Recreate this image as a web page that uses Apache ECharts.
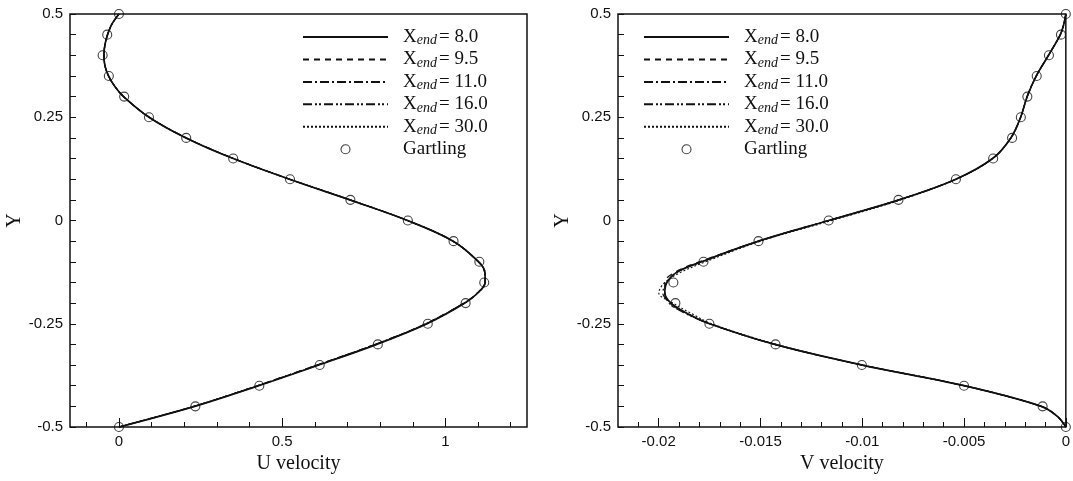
<!DOCTYPE html>
<html>
<head>
<meta charset="utf-8">
<script src="https://cdn.jsdelivr.net/npm/echarts@6/dist/echarts.min.js"></script>
<style>
  html, body { margin: 0; padding: 0; background: #fff; }
  #chart { width: 1073px; height: 481px; }
</style>
</head>
<body>
<div id="chart"></div>
<script>
// X_end values of the five runs
const endValues = ['8.0', '9.5', '11.0', '16.0', '30.0'];

// --- U velocity profile (left panel) ---
const yU = [0.5, 0.475, 0.45, 0.425, 0.4, 0.375, 0.35, 0.325, 0.3, 0.25, 0.2, 0.15, 0.1, 0.05, 0,
  -0.05, -0.1, -0.125, -0.15, -0.175, -0.2, -0.25, -0.3, -0.35, -0.4, -0.45, -0.5];
const uEnd8 = [0, -0.022, -0.035, -0.043, -0.046, -0.043, -0.032, -0.013, 0.014, 0.092, 0.205, 0.350, 0.522, 0.707, 0.884,
  1.024, 1.102, 1.121, 1.122, 1.100, 1.060, 0.944, 0.790, 0.612, 0.428, 0.232, 0];
const uEnd95 = [0, -0.022, -0.035, -0.043, -0.046, -0.043, -0.032, -0.013, 0.014, 0.093, 0.207, 0.352, 0.524, 0.708, 0.884,
  1.023, 1.101, 1.120, 1.121, 1.098, 1.056, 0.939, 0.784, 0.606, 0.423, 0.229, 0];
const uEnd11 = [0, -0.022, -0.035, -0.043, -0.046, -0.043, -0.032, -0.013, 0.014, 0.093, 0.206, 0.351, 0.523, 0.708, 0.884,
  1.023, 1.101, 1.120, 1.121, 1.099, 1.057, 0.940, 0.785, 0.607, 0.424, 0.229, 0];
const uEnd16 = [0, -0.022, -0.035, -0.043, -0.046, -0.043, -0.032, -0.013, 0.014, 0.093, 0.206, 0.351, 0.523, 0.708, 0.884,
  1.023, 1.101, 1.120, 1.121, 1.099, 1.057, 0.941, 0.786, 0.608, 0.425, 0.230, 0];
const uEnd30 = [0, -0.022, -0.035, -0.043, -0.046, -0.043, -0.032, -0.013, 0.014, 0.092, 0.205, 0.350, 0.522, 0.707, 0.884,
  1.024, 1.102, 1.121, 1.122, 1.100, 1.059, 0.943, 0.789, 0.611, 0.427, 0.231, 0];

// --- V velocity profile (right panel) ---
const yV = [0.5, 0.475, 0.45, 0.4, 0.35, 0.3, 0.25, 0.2, 0.15, 0.1, 0.05, 0, -0.05, -0.1, -0.125,
  -0.15, -0.175, -0.2, -0.225, -0.25, -0.3, -0.35, -0.4, -0.45, -0.475, -0.5];
const vEnd8 = [0, -0.0001, -0.00027, -0.00085, -0.00145, -0.0019, -0.00222, -0.0027, -0.0036, -0.0054, -0.0082, -0.01165,
  -0.0151, -0.0179, -0.0191, -0.0196, -0.0197, -0.0194, -0.0186, -0.0175, -0.0143, -0.0100, -0.0050, -0.0012, -0.0004, 0];
const vEnd95 = [0, -0.0001, -0.00027, -0.00085, -0.00145, -0.0019, -0.00222, -0.0027, -0.0036, -0.0054, -0.0082, -0.01165,
  -0.0151, -0.0180, -0.0192, -0.0197, -0.0197, -0.0194, -0.0186, -0.0175, -0.0143, -0.0100, -0.0050, -0.0012, -0.0004, 0];
const vEnd11 = [0, -0.0001, -0.00027, -0.00085, -0.00145, -0.0019, -0.00222, -0.0027, -0.0036, -0.0054, -0.0082, -0.01165,
  -0.0151, -0.0179, -0.0191, -0.0196, -0.0198, -0.0194, -0.0186, -0.0175, -0.0143, -0.0100, -0.0050, -0.0012, -0.0004, 0];
const vEnd16 = [0, -0.0001, -0.00027, -0.00085, -0.00145, -0.0019, -0.00222, -0.0027, -0.0036, -0.0054, -0.0082, -0.01165,
  -0.0151, -0.0179, -0.0191, -0.0196, -0.0197, -0.0195, -0.0187, -0.0175, -0.0143, -0.0100, -0.0050, -0.0012, -0.0004, 0];
const vEnd30 = [0, -0.0001, -0.00027, -0.00085, -0.00145, -0.0019, -0.00222, -0.0027, -0.0036, -0.0054, -0.0081, -0.0115,
  -0.0150, -0.0177, -0.0189, -0.0197, -0.0200, -0.0193, -0.0184, -0.0174, -0.0142, -0.0100, -0.0050, -0.0012, -0.0004, 0];

// --- Gartling reference points ---
const yGartling = [0.5, 0.45, 0.4, 0.35, 0.3, 0.25, 0.2, 0.15, 0.1, 0.05, 0,
  -0.05, -0.1, -0.15, -0.2, -0.25, -0.3, -0.35, -0.4, -0.45, -0.5];
const uGartling = [0, -0.036, -0.05, -0.031, 0.016, 0.092, 0.206, 0.350, 0.524, 0.709, 0.885,
  1.025, 1.104, 1.119, 1.062, 0.946, 0.793, 0.615, 0.430, 0.234, 0];
const vGartling = [0, -0.00024, -0.00083, -0.00143, -0.00189, -0.00221, -0.00264, -0.00357, -0.0054, -0.00822, -0.01165,
  -0.0151, -0.0178, -0.01928, -0.01918, -0.01751, -0.01426, -0.01002, -0.005, -0.00114, 0];

// --- tick values ---
const uLabelTicks = [0, 0.5, 1];
const uMinorTicks = [-0.1, 0.1, 0.2, 0.3, 0.4, 0.6, 0.7, 0.8, 0.9, 1.1, 1.2];
const vLabelTicks = [-0.02, -0.015, -0.01, -0.005, 0];
const vMinorTicks = [-0.021, -0.019, -0.018, -0.017, -0.016, -0.014, -0.013, -0.012, -0.011,
  -0.009, -0.008, -0.007, -0.006, -0.004, -0.003, -0.002, -0.001];

const SANS = 'Liberation Sans';
const SERIF = 'Liberation Serif';
const INK = '#111';

const lineTypes = ['solid', [6, 5], [9, 3, 2, 3], [9, 3, 2, 2, 2, 3], [2, 2]];
const lineWidths = [1.7, 1.2, 1.2, 1.2, 1.1];
const seriesNames = endValues.map(v => 'Xend=' + v);

const pairs = (xs, ys) => xs.map((x, i) => [x, ys[i]]);

function lineSeries(idx, xs, ys, axisIdx) {
  return {
    name: seriesNames[idx],
    type: 'line',
    xAxisIndex: axisIdx,
    yAxisIndex: axisIdx / 2,
    data: pairs(xs, ys),
    symbol: 'none',
    smooth: 0.35,
    clip: false,
    z: idx === 0 ? 4 : 3,
    lineStyle: { color: INK, width: lineWidths[idx], type: lineTypes[idx] },
    itemStyle: { color: INK }
  };
}

function gartlingSeries(xs, axisIdx) {
  return {
    name: 'Gartling',
    type: 'scatter',
    xAxisIndex: axisIdx,
    yAxisIndex: axisIdx / 2,
    data: pairs(xs, yGartling),
    symbol: 'circle',
    symbolSize: 9,
    clip: false,
    z: 5,
    itemStyle: { color: 'rgba(0,0,0,0)', borderColor: INK, borderWidth: 1.1 }
  };
}

function xAxes(gridIndex, min, max, labels, minors, name) {
  return [
    {
      gridIndex, type: 'value', min, max, position: 'bottom',
      name, nameLocation: 'middle', nameGap: 27,
      nameTextStyle: { fontFamily: SERIF, fontSize: 20, color: INK },
      axisLine: { show: false, onZero: false },
      axisTick: { show: true, inside: true, length: 9, customValues: labels, lineStyle: { color: INK, width: 1 } },
      axisLabel: { customValues: labels, margin: 7, fontFamily: SANS, fontSize: 15, color: INK },
      splitLine: { show: false }
    },
    {
      gridIndex, type: 'value', min, max, position: 'bottom',
      axisLine: { show: false, onZero: false },
      axisTick: { show: true, inside: true, length: 5, customValues: minors, lineStyle: { color: INK, width: 1 } },
      axisLabel: { show: false },
      splitLine: { show: false }
    }
  ];
}

function yAxis(gridIndex, nameGap) {
  return {
    gridIndex, type: 'value', min: -0.5, max: 0.5, interval: 0.25,
    name: 'Y', nameLocation: 'middle', nameGap, nameRotate: 90,
    nameTextStyle: { fontFamily: SERIF, fontSize: 20, color: INK },
    axisLine: { show: false, onZero: false },
    axisTick: { show: true, inside: true, length: 6, lineStyle: { color: INK, width: 1 } },
    minorTick: { show: true, splitNumber: 5, length: 6, lineStyle: { color: INK, width: 1 } },
    axisLabel: { margin: 7, fontFamily: SANS, fontSize: 15, color: INK },
    splitLine: { show: false },
    minorSplitLine: { show: false }
  };
}

function legendFor(left) {
  return {
    left, top: 27.5, orient: 'vertical', padding: 0,
    itemWidth: 85, itemHeight: 9, itemGap: 2.45,
    selectedMode: false,
    // line entries draw only their stroke, no marker dot
    data: seriesNames.map(n => ({ name: n, itemStyle: { opacity: 0 } }))
      .concat([{ name: 'Gartling', itemStyle: { borderWidth: 1.1 } }]),
    formatter: name => {
      if (name === 'Gartling') return '{g|Gartling}';
      return '{x|X}{s|end}{e|= ' + name.slice(5) + '}';
    },
    textStyle: {
      fontFamily: SERIF, fontSize: 19, color: INK,
      rich: {
        x: { fontFamily: SERIF, fontSize: 19, lineHeight: 21, color: INK, padding: [0, 0, 0, 10] },
        s: { fontFamily: SERIF, fontSize: 14, fontStyle: 'italic', lineHeight: 14, verticalAlign: 'bottom', color: INK },
        e: { fontFamily: SERIF, fontSize: 19, lineHeight: 21, color: INK, padding: [0, 0, 0, 2] },
        g: { fontFamily: SERIF, fontSize: 19, lineHeight: 21, color: INK, padding: [0, 0, 0, 10] }
      }
    }
  };
}

const chart = echarts.init(document.getElementById('chart'), null, { renderer: 'canvas' });

const uSets = [uEnd8, uEnd95, uEnd11, uEnd16, uEnd30];
const vSets = [vEnd8, vEnd95, vEnd11, vEnd16, vEnd30];

chart.setOption({
  backgroundColor: '#fff',
  animation: false,
  grid: [
    { left: 70, right: 546, top: 14, bottom: 54, show: true, borderColor: INK, borderWidth: 1.5 },
    { left: 618, right: 3, top: 14, bottom: 54, show: true, borderColor: INK, borderWidth: 1.5 }
  ],
  legend: [legendFor(302), legendFor(643)],
  xAxis: [
    ...xAxes(0, -0.15, 1.25, uLabelTicks, uMinorTicks, 'U velocity'),
    ...xAxes(1, -0.022, 0, vLabelTicks, vMinorTicks, 'V velocity')
  ],
  yAxis: [yAxis(0, 44), yAxis(1, 40)],
  series: [
    ...uSets.map((xs, i) => lineSeries(i, xs, yU, 0)),
    gartlingSeries(uGartling, 0),
    ...vSets.map((xs, i) => lineSeries(i, xs, yV, 2)),
    gartlingSeries(vGartling, 2)
  ]
});
</script>
</body>
</html>
